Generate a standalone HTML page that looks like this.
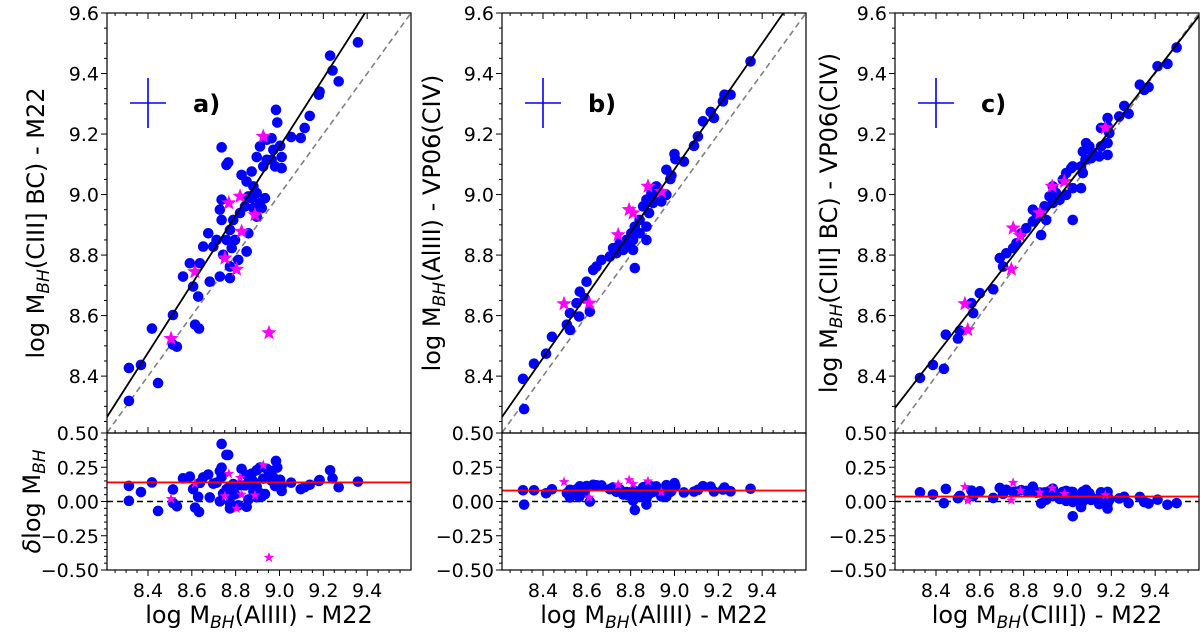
<!DOCTYPE html>
<html><head><meta charset="utf-8"><style>
html,body{margin:0;padding:0;background:#fff;}
svg{display:block;font-family:"DejaVu Sans","Liberation Sans",sans-serif;}
</style></head><body>
<svg id="chart" width="1200" height="635" viewBox="0 0 1200 635" xmlns="http://www.w3.org/2000/svg"></svg>
<script>
// ---------- data ----------
const aX=[9.358,9.231,9.242,9.27,9.183,9.18,9.138,9.115,9.097,9.053,8.984,8.99,8.964,9.003,8.972,9.01,8.964,8.98,9.01,8.942,8.926,8.896,8.911,8.942,8.736,8.766,8.758,8.827,8.850,8.873,8.881,8.896,8.858,8.843,8.820,8.789,8.774,8.759,8.728,8.736,8.736,8.713,8.698,8.675,8.652,8.637,8.591,8.560,8.606,8.629,8.682,8.774,8.728,8.812,8.850,8.858,8.896,8.911,8.934,8.919,8.873,8.881,8.743,8.782,8.797,8.774,8.850,8.418,8.532,8.514,8.615,8.633,8.313,8.368,8.446,8.313,8.514];
const aY=[9.503,9.459,9.41,9.374,9.34,9.33,9.26,9.22,9.187,9.19,9.28,9.238,9.186,9.161,9.148,9.124,9.115,9.093,9.087,9.181,9.093,9.124,9.159,9.115,9.156,9.106,9.098,9.065,9.043,9.076,9.027,9.005,8.994,8.961,8.939,8.916,8.883,8.850,8.950,8.983,8.916,8.850,8.828,8.872,8.828,8.773,8.773,8.729,8.696,8.663,8.712,8.724,8.729,8.784,8.812,8.872,8.927,8.972,8.988,8.955,8.988,8.955,8.801,8.823,8.850,8.762,8.812,8.557,8.497,8.504,8.57,8.557,8.427,8.437,8.377,8.318,8.602];
const aStarX=[8.926,8.769,8.82,8.888,8.827,8.751,8.804,8.614,8.505,8.952];
const aStarY=[9.192,8.972,8.994,8.933,8.878,8.79,8.753,8.745,8.524,8.543];

const bX=[9.347,9.256,9.228,9.221,9.165,9.18,9.13,9.107,9.089,9.0,9.004,9.043,8.963,8.986,8.981,8.917,8.895,8.872,8.932,8.902,8.884,8.857,8.841,8.819,8.803,8.781,8.750,8.720,8.735,8.705,8.667,8.644,8.629,8.599,8.568,8.591,8.553,8.523,8.565,8.614,8.819,8.872,8.841,8.811,8.872,8.963,8.940,8.811,8.788,8.766,8.509,8.523,8.441,8.414,8.359,8.309,8.314];
const bY=[9.44,9.33,9.33,9.308,9.273,9.253,9.242,9.192,9.161,9.134,9.117,9.109,9.082,9.063,9.051,9.027,9.005,8.983,8.999,8.972,8.939,8.961,8.916,8.894,8.872,8.850,8.839,8.823,8.806,8.795,8.784,8.762,8.751,8.712,8.679,8.657,8.641,8.608,8.597,8.613,8.757,8.894,8.872,8.850,8.850,8.999,8.977,8.817,8.834,8.817,8.57,8.553,8.530,8.474,8.441,8.391,8.291];
const bStarX=[8.879,8.94,8.793,8.811,8.743,8.496,8.611];
const bStarY=[9.027,9.010,8.95,8.939,8.867,8.639,8.641];

const cX=[9.498,9.456,9.411,9.370,9.35,9.33,9.279,9.259,9.236,9.183,9.183,9.153,9.191,9.183,9.153,9.183,9.145,9.115,9.108,9.085,9.1,9.07,9.082,9.062,9.07,9.062,9.024,9.024,9.024,9.017,8.994,8.979,8.933,8.948,8.918,8.933,8.964,8.994,8.895,8.873,8.858,8.842,8.812,8.789,8.767,8.752,8.721,8.691,8.706,8.661,8.6,8.562,8.57,8.842,8.903,8.88,8.327,8.386,8.436,8.445,8.5,8.509];
const cY=[9.486,9.432,9.424,9.355,9.346,9.363,9.267,9.293,9.258,9.253,9.225,9.22,9.203,9.17,9.159,9.131,9.126,9.137,9.12,9.17,9.159,9.142,9.115,9.093,9.071,9.021,9.021,8.916,9.093,9.087,9.071,9.049,9.027,9.005,8.994,8.972,8.983,8.999,8.961,8.939,8.922,8.911,8.889,8.872,8.839,8.823,8.806,8.790,8.762,8.687,8.674,8.641,8.608,8.95,8.916,8.866,8.394,8.437,8.424,8.537,8.524,8.55];
const cStarX=[9.173,8.93,8.986,8.873,8.752,8.785,8.744,8.532,8.545];
const cStarY=[9.22,9.027,9.043,8.939,8.889,8.864,8.753,8.639,8.553];

const fitSlope=[1.134,1.04,0.934];
const fitIntercept=[-1.0485,-0.2765,0.624];
const meanOffset=[0.139,0.08,0.036];
const panelLabels=["a)","b)","c)"];
const yTicksTop=["8.4","8.6","8.8","9.0","9.2","9.4","9.6"];
const xTicks=["8.4","8.6","8.8","9.0","9.2","9.4"];
const resTicks=["−0.50","−0.25","0.00","0.25","0.50"];
const resTickVals=[-0.5,-0.25,0,0.25,0.5];
const yLabels=[["log M","BH","(CIII] BC) - M22"],["log M","BH","(AlIII) - VP06(CIV)"],["log M","BH","(CIII] BC) - VP06(CIV)"]];
const xLabels=[["log M","BH","(AlIII) - M22"],["log M","BH","(AlIII) - M22"],["log M","BH","(CIII]) - M22"]];

// ---------- layout ----------
const NS="http://www.w3.org/2000/svg";
const svg=document.getElementById('chart');
const LEFTS=[107,502,895], W=304, TOP=13, MID=433, BOT=570;
const XMIN=8.213, XMAX=9.6, YMIN=8.212, YMAX=9.6;
function el(tag,attrs,parent){const e=document.createElementNS(NS,tag);for(const k in attrs)e.setAttribute(k,attrs[k]);(parent||svg).appendChild(e);return e;}
function starPath(cx,cy,R){const r=R*0.42;let d="";for(let i=0;i<10;i++){const a=-Math.PI/2+i*Math.PI/5;const rr=i%2?r:R;d+=(i?"L":"M")+(cx+rr*Math.cos(a)).toFixed(2)+","+(cy+rr*Math.sin(a)).toFixed(2);}return d+"Z";}

const panels=[[aX,aY,aStarX,aStarY],[bX,bY,bStarX,bStarY],[cX,cY,cStarX,cStarY]];
panels.forEach((p,i)=>{
  const L=LEFTS[i];
  const sx=v=>L+(v-XMIN)/(XMAX-XMIN)*W;
  const sy=v=>TOP+(YMAX-v)/(YMAX-YMIN)*(MID-TOP);
  const ry=v=>MID+(0.5-v)/1.0*(BOT-MID);
  const g=el('g',{});
  
  
  const cp=el('clipPath',{id:'cpT'+i},g); el('rect',{x:L,y:TOP,width:W,height:MID-TOP},cp);
  const cp2=el('clipPath',{id:'cpB'+i},g); el('rect',{x:L,y:MID,width:W,height:BOT-MID},cp2);
  const oneone=el('line',{x1:sx(8.0),y1:sy(8.0),x2:sx(9.8),y2:sy(9.8),stroke:'#808080','stroke-width':1.6,'stroke-dasharray':'6,4','clip-path':'url(#cpT'+i+')'},g);
  
  
  const [X,Y,SX,SY]=p;
  X.forEach((x,k)=>{const c=el('circle',{cx:sx(x),cy:sy(Y[k]),r:5.3,fill:'#0000ff','clip-path':'url(#cpT'+i+')'},g);
    
    });
  SX.forEach((x,k)=>{const s=el('path',{d:starPath(sx(x),sy(SY[k]),8),fill:'#ff00ff','clip-path':'url(#cpT'+i+')'},g);
    
    });
  const f=x=>fitSlope[i]*x+fitIntercept[i];
  const fit=el('line',{x1:sx(8.0),y1:sy(f(8.0)),x2:sx(9.8),y2:sy(f(9.8)),stroke:'#000','stroke-width':1.8,'clip-path':'url(#cpT'+i+')'},g);
  
  
  const ex=L+41, ey=103;
  const eh=el('line',{x1:ex-18,y1:ey,x2:ex+18,y2:ey,stroke:'#0000ff','stroke-width':1.6},g);
  
  
  const ev=el('line',{x1:ex,y1:ey-25,x2:ex,y2:ey+25,stroke:'#0000ff','stroke-width':1.6},g);
  
  
  const pl=el('text',{x:L+86,y:ey+9,'font-size':24,'font-weight':'bold'},g); pl.textContent=panelLabels[i];
  
  
  const zl=el('line',{x1:L,y1:ry(0),x2:L+W,y2:ry(0),stroke:'#000','stroke-width':1.6,'stroke-dasharray':'6,4'},g);
  
  
  X.forEach((x,k)=>{const c=el('circle',{cx:sx(x),cy:ry(Y[k]-x),r:5.3,fill:'#0000ff','clip-path':'url(#cpB'+i+')'},g);
    
    });
  SX.forEach((x,k)=>{const s=el('path',{d:starPath(sx(x),ry(SY[k]-x),5.5),fill:'#ff00ff','clip-path':'url(#cpB'+i+')'},g);
    
    });
  const ml=el('line',{x1:L,y1:ry(meanOffset[i]),x2:L+W,y2:ry(meanOffset[i]),stroke:'#ff0000','stroke-width':1.8},g);
  
  
  el('rect',{x:L,y:TOP,width:W,height:MID-TOP,fill:'none',stroke:'#000','stroke-width':1.2},g);
  el('rect',{x:L,y:MID,width:W,height:BOT-MID,fill:'none',stroke:'#000','stroke-width':1.2},g);
  for(let v=8.25;v<=9.601;v+=0.05){const y=sy(v);const major=Math.abs(Math.round(v*10)/10-v)<1e-6&&Math.round(v*10)%2===0;
    el('line',{x1:L,y1:y,x2:L-(major?6:3),y2:y,stroke:'#000','stroke-width':1},g);}
  yTicksTop.forEach(t=>{const tx=el('text',{x:L-8,y:sy(parseFloat(t))+7,'font-size':19,'text-anchor':'end'},g);tx.textContent=t;
    
    });
  for(let v=8.25;v<=9.6;v+=0.05){const x=sx(v);const major=Math.abs(Math.round(v*10)/10-v)<1e-6&&Math.round(v*10)%2===0;
    el('line',{x1:x,y1:TOP,x2:x,y2:TOP+(major?6:3),stroke:'#000','stroke-width':1},g);
    el('line',{x1:x,y1:MID,x2:x,y2:MID-(major?6:3),stroke:'#000','stroke-width':1},g);
    el('line',{x1:x,y1:BOT,x2:x,y2:BOT+(major?6:3),stroke:'#000','stroke-width':1},g);}
  xTicks.forEach(t=>{const tx=el('text',{x:sx(parseFloat(t)),y:597,'font-size':19,'text-anchor':'middle'},g);tx.textContent=t;
    
    });
  for(let v=-0.5;v<=0.501;v+=0.05){const y=ry(v);const major=Math.abs(v*4-Math.round(v*4))<1e-6;
    el('line',{x1:L,y1:y,x2:L-(major?6:3),y2:y,stroke:'#000','stroke-width':1},g);}
  resTicks.forEach((t,k)=>{const tx=el('text',{x:L-8,y:ry(resTickVals[k])+7,'font-size':19,'text-anchor':'end'},g);tx.textContent=t;
    
    });
  const ylx=L-(i===0?63:i===1?62:58), yly=(TOP+MID)/2;
  const yl=el('text',{x:ylx,y:yly,'font-size':24,'text-anchor':'middle',transform:'rotate(-90 '+ylx+' '+yly+')'},g);
  
  
  yl.innerHTML=yLabels[i][0]+'<tspan font-size="17" font-style="italic" dy="5">'+yLabels[i][1]+'</tspan><tspan dy="-5">'+yLabels[i][2]+'</tspan>';
  const xl=el('text',{x:L+W/2,y:623,'font-size':24,'text-anchor':'middle'},g);
  
  
  xl.innerHTML=xLabels[i][0]+'<tspan font-size="17" font-style="italic" dy="5">'+xLabels[i][1]+'</tspan><tspan dy="-5">'+xLabels[i][2]+'</tspan>';
  if(i===0){const rl=el('text',{x:40,y:(MID+BOT)/2,'font-size':24,'text-anchor':'middle',transform:'rotate(-90 40 '+(MID+BOT)/2+')'},g);
    
    
    rl.innerHTML='<tspan font-style="italic">δ</tspan>log M<tspan font-size="17" font-style="italic" dy="5">BH</tspan>';}
});
</script>
</body></html>
